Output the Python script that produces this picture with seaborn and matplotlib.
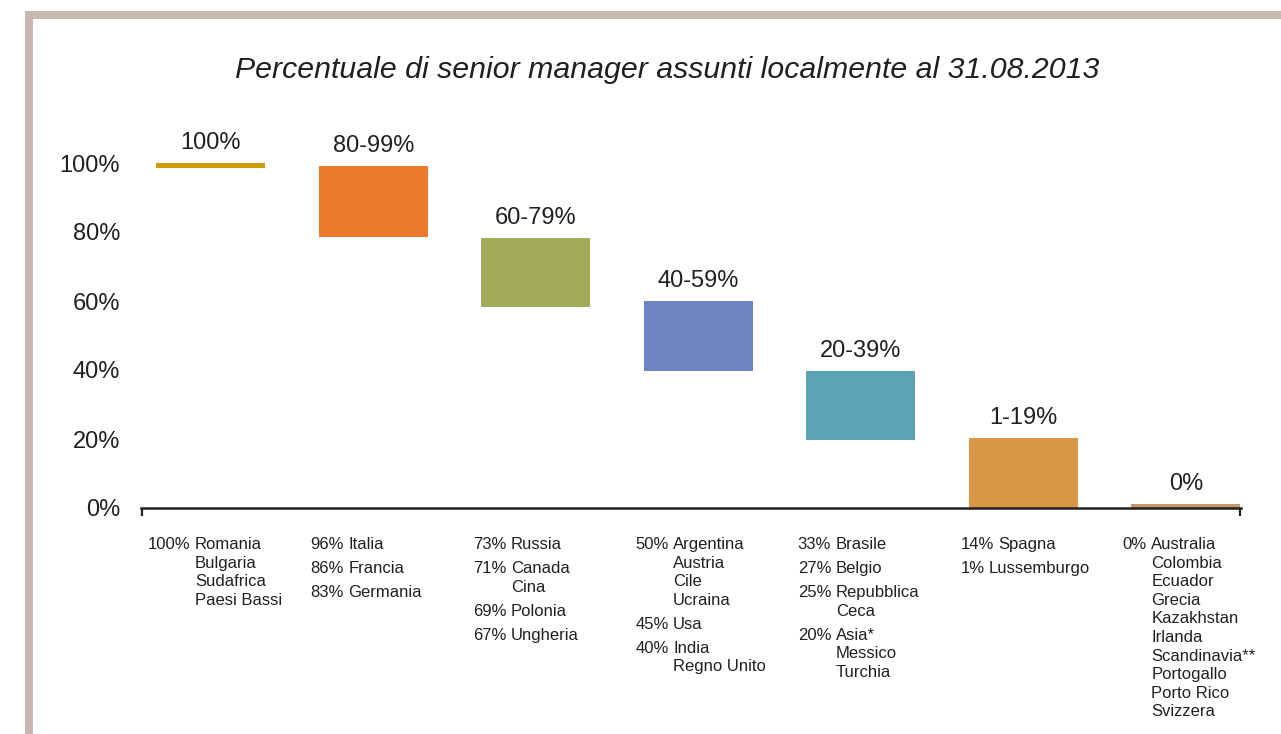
import matplotlib
matplotlib.use('Agg')
import matplotlib.pyplot as plt
from matplotlib.patches import Rectangle
import seaborn as sns

# fasce di percentuale e limiti delle barre
fasce = ['100%', '80-99%', '60-79%', '40-59%', '20-39%', '1-19%', '0%']
bassi = [98.6, 78.6, 58.2, 39.8, 19.6, 0, 0]
alti = [100, 99, 78.3, 60, 39.8, 20.4, 1.3]
colori = ['#cf9a06', '#ee7a2c', '#a3ab58', '#6d85c2', '#5ba4b4', '#d99645', '#c4976a']

# paesi per colonna: (percentuale, [paesi])
col1 = [('100%', ['Romania', 'Bulgaria', 'Sudafrica', 'Paesi Bassi'])]
col2 = [('96%', ['Italia']), ('86%', ['Francia']), ('83%', ['Germania'])]
col3 = [('73%', ['Russia']), ('71%', ['Canada', 'Cina']), ('69%', ['Polonia']),
        ('67%', ['Ungheria'])]
col4 = [('50%', ['Argentina', 'Austria', 'Cile', 'Ucraina']), ('45%', ['Usa']),
        ('40%', ['India', 'Regno Unito'])]
col5 = [('33%', ['Brasile']), ('27%', ['Belgio']), ('25%', ['Repubblica', 'Ceca']),
        ('20%', ['Asia*', 'Messico', 'Turchia'])]
col6 = [('14%', ['Spagna']), ('1%', ['Lussemburgo'])]
col7 = [('0%', ['Australia', 'Colombia', 'Ecuador', 'Grecia', 'Kazakhstan', 'Irlanda',
                'Scandinavia**', 'Portogallo', 'Porto Rico', 'Svizzera'])]
colonne = [col1, col2, col3, col4, col5, col6, col7]

yticks = [0, 20, 40, 60, 80, 100]
titolo = 'Percentuale di senior manager assunti localmente al 31.08.2013'

sns.set_style('white')
plt.rcParams['font.family'] = ['Liberation Sans', 'DejaVu Sans']
testo = '#231f20'

W, H = 1281, 734
fig = plt.figure(figsize=(W / 100, H / 100), dpi=100)
ax = fig.add_axes([141 / W, (H - 508) / H, 1100 / W, 110 * 3.45 / H])

altezze = [a - b for a, b in zip(alti, bassi)]
sns.barplot(x=fasce, y=altezze, bottom=bassi, width=0.67, errorbar=None,
            color='#999999', saturation=1, linewidth=0, ax=ax)
for p, c in zip(ax.patches, colori):
    p.set_facecolor(c)

# etichette sopra le barre
for i, (f, a) in enumerate(zip(fasce, alti)):
    ax.annotate(f, xy=(i, a), xytext=(0, 14), textcoords='offset pixels',
                ha='center', va='baseline', fontsize=17, color=testo,
                annotation_clip=False)

ax.set_xlim(-0.43, 6.34)
ax.set_ylim(0, 110)
ax.set_yticks(yticks)
ax.set_yticklabels([f'{v}%' for v in yticks], fontsize=17, color=testo)
ax.set_xticks([-0.425, 6.335])
ax.set_xticklabels(['', ''])
ax.tick_params(axis='y', length=0, pad=15)
ax.tick_params(axis='x', bottom=True, length=5.8, width=1.6, direction='out',
               color=testo)
ax.set_xlabel('')
ax.set_ylabel('')
for s in ['top', 'right', 'left']:
    ax.spines[s].set_visible(False)
ax.spines['bottom'].set_linewidth(1.8)
ax.spines['bottom'].set_color(testo)

# elenchi dei paesi sotto l'asse
lh, gg = 18.6, 24
trans = ax.get_xaxis_transform()
for i, col in enumerate(colonne):
    y = 41
    for pct, paesi in col:
        t = ax.annotate(pct, xy=(i, 0), xycoords=trans, xytext=(-63, -y),
                        textcoords='offset pixels', ha='left', va='baseline',
                        fontsize=12, color=testo, annotation_clip=False)
        for k, nome in enumerate(paesi):
            ax.annotate(nome, xy=(1, 0), xycoords=t, xytext=(4.5, -k * lh),
                        textcoords='offset pixels', ha='left', va='bottom',
                        fontsize=12, color=testo, annotation_clip=False)
        y += (len(paesi) - 1) * lh + gg

fig.text(667 / W, 1 - 70 / H, titolo, ha='center', va='center', fontsize=21.8,
         style='italic', color=testo)

# cornice
bordo = '#c8b7ae'
fig.add_artist(Rectangle((25 / W, 0), 8 / W, (H - 11) / H, transform=fig.transFigure,
                         color=bordo, lw=0))
fig.add_artist(Rectangle((25 / W, (H - 19) / H), (W - 25) / W, 8 / H,
                         transform=fig.transFigure, color=bordo, lw=0))

fig.savefig('out.png', dpi=100)
